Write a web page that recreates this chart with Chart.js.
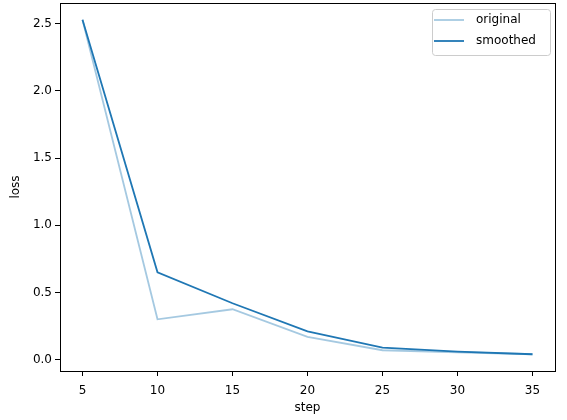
<!DOCTYPE html>
<html>
<head>
<meta charset="utf-8">
<script src="https://cdn.jsdelivr.net/npm/chart.js@4/dist/chart.umd.min.js"></script>
<style>
  html, body { margin: 0; padding: 0; background: #fff; }
  #wrap { width: 567px; height: 420px; }
</style>
</head>
<body>
<div id="wrap"><canvas id="lossChart" width="567" height="420"></canvas></div>
<script>
// values
const steps = [5, 10, 15, 20, 25, 30, 35];
const original = [2.53, 0.30, 0.375, 0.17, 0.07, 0.055, 0.04];
const smoothed = [2.53, 0.65, 0.42, 0.21, 0.09, 0.06, 0.04];
const xTicks = [5, 10, 15, 20, 25, 30, 35];
const yTicks = [0, 0.5, 1, 1.5, 2, 2.5];

const C0 = "#1f77b4";
const tickFont = { family: "DejaVu Sans", size: 12 };

// matplotlib style box around the axes
const frame = {
  id: "frame",
  afterDraw(chart) {
    const { ctx, chartArea: a } = chart;
    ctx.save();
    ctx.strokeStyle = "#000";
    ctx.lineWidth = 1;
    ctx.strokeRect(Math.round(a.left) + 0.5, Math.round(a.top) + 0.5,
      Math.round(a.right - a.left), Math.round(a.bottom - a.top));
    ctx.restore();
  }
};

// legend box in the upper right
const boxLegend = {
  id: "boxLegend",
  afterDraw(chart) {
    const { ctx, chartArea: a } = chart;
    const w = 118, h = 46;
    const x = a.right - 5 - w, y = a.top + 6;
    ctx.save();
    ctx.fillStyle = "rgba(255,255,255,0.8)";
    ctx.strokeStyle = "#cccccc";
    ctx.lineWidth = 1;
    ctx.beginPath();
    ctx.roundRect(x + 0.5, y + 0.5, w, h, 3);
    ctx.fill();
    ctx.stroke();
    ctx.font = "12px DejaVu Sans";
    ctx.textBaseline = "middle";
    chart.data.datasets.forEach((ds, i) => {
      const ly = y + 11 + i * 21;
      ctx.strokeStyle = ds.borderColor;
      ctx.lineWidth = 1.8;
      ctx.beginPath();
      ctx.moveTo(x + 2, ly);
      ctx.lineTo(x + 32, ly);
      ctx.stroke();
      ctx.fillStyle = "#000";
      ctx.fillText(ds.label, x + 44, ly);
    });
    ctx.restore();
  }
};

new Chart(document.getElementById("lossChart"), {
  type: "line",
  data: {
    datasets: [
      {
        label: "original",
        data: steps.map((s, i) => ({ x: s, y: original[i] })),
        borderColor: "rgba(31,119,180,0.4)",
        borderWidth: 1.8,
        pointRadius: 0,
        tension: 0
      },
      {
        label: "smoothed",
        data: steps.map((s, i) => ({ x: s, y: smoothed[i] })),
        borderColor: C0,
        borderWidth: 1.8,
        pointRadius: 0,
        tension: 0
      }
    ]
  },
  options: {
    responsive: false,
    animation: false,
    layout: { padding: { top: 3, right: 12, left: 0, bottom: 0 } },
    plugins: { legend: { display: false }, tooltip: { enabled: false } },
    scales: {
      x: {
        type: "linear",
        min: 3.5,
        max: 36.5,
        afterBuildTicks: (s) => { s.ticks = xTicks.map(v => ({ value: v })); },
        afterFit: (s) => { s.height = 49; s.paddingLeft = 0; s.paddingRight = 0; },
        ticks: { color: "#000", font: tickFont, padding: 8, maxRotation: 0 },
        grid: { drawOnChartArea: false, color: "#000", tickLength: 5 },
        border: { color: "#000" },
        title: { display: true, text: "step", color: "#000", font: tickFont, padding: { top: 0, bottom: 5 } }
      },
      y: {
        min: -0.0845,
        max: 2.6545,
        afterBuildTicks: (s) => { s.ticks = yTicks.map(v => ({ value: v })); },
        afterFit: (s) => { s.width = 60; s.paddingTop = 0; s.paddingBottom = 0; },
        ticks: { color: "#000", font: tickFont, padding: 3, callback: (v) => v.toFixed(1) },
        grid: { drawOnChartArea: false, color: "#000", tickLength: 5 },
        border: { color: "#000" },
        title: { display: true, text: "loss", color: "#000", font: tickFont, padding: { top: 9, bottom: 0 } }
      }
    }
  },
  plugins: [frame, boxLegend]
});
</script>
</body>
</html>
